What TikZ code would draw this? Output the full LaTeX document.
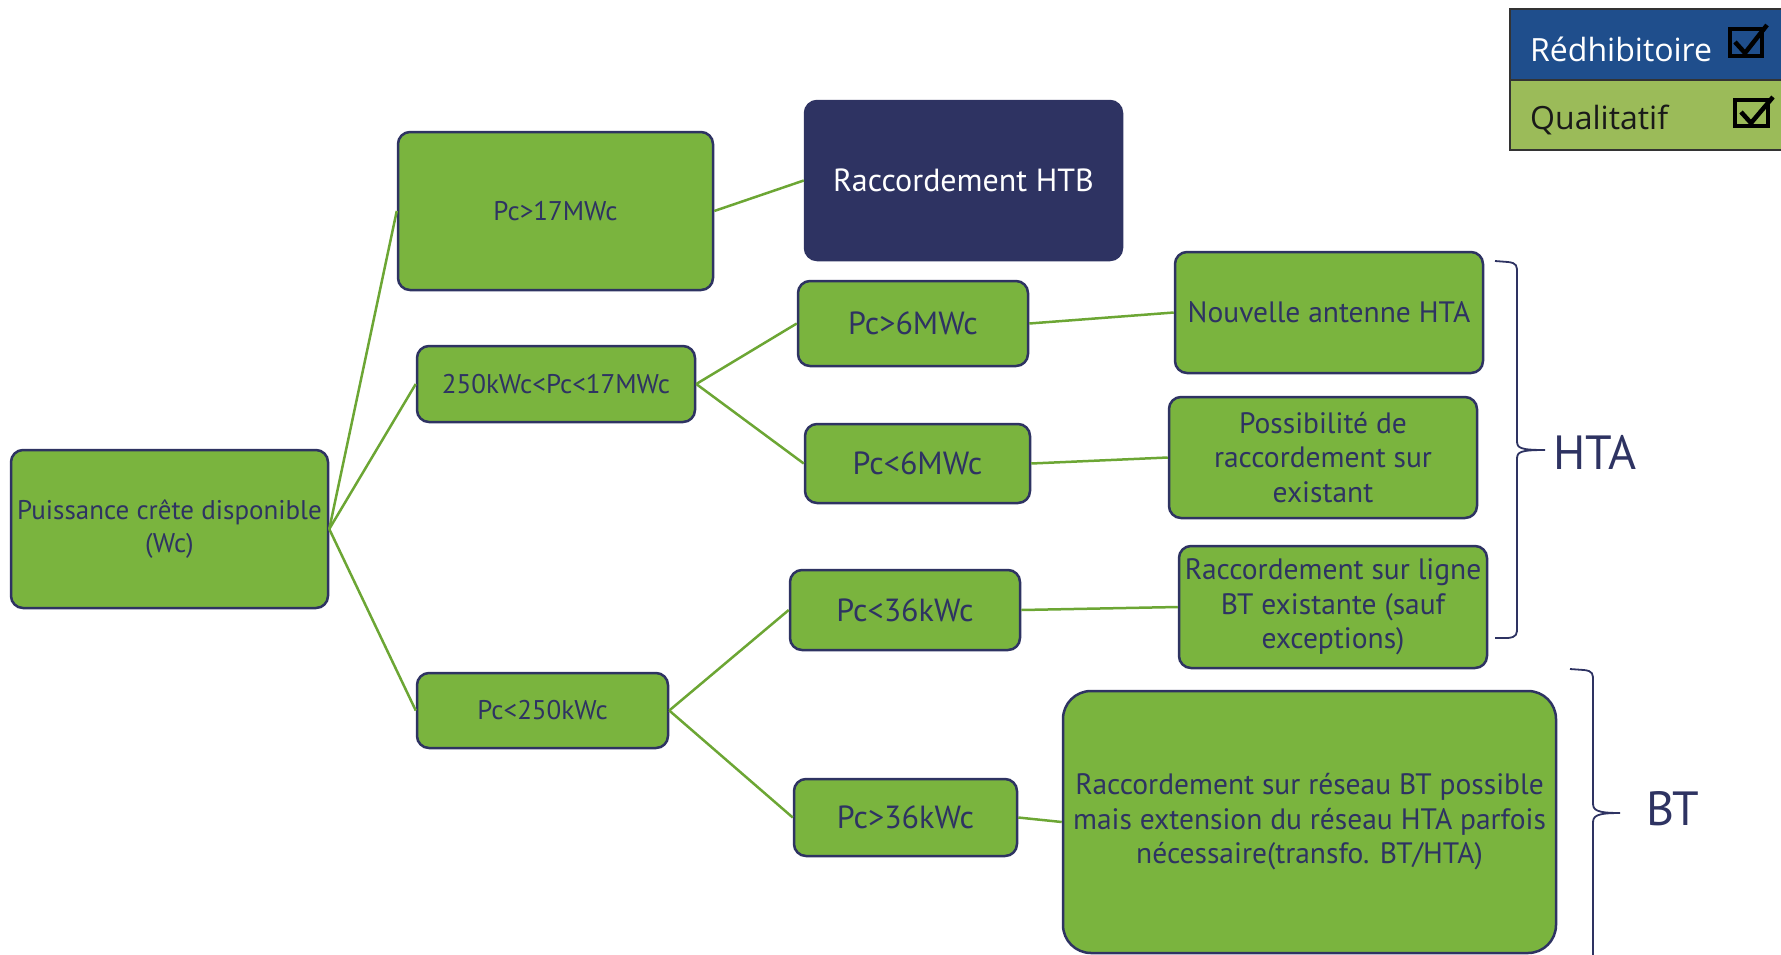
\documentclass[tikz,border=0pt]{standalone}
\usepackage{fontspec}
\setmainfont{PT Sans}
\newfontfamily\legendfont{Open Sans}
\definecolor{boxgreen}{RGB}{122,180,62}
\definecolor{navy}{RGB}{46,51,98}
\definecolor{linkgreen}{RGB}{108,166,52}
\definecolor{legblue}{RGB}{31,78,140}
\definecolor{leggreen}{RGB}{155,187,89}
\begin{document}
\begin{tikzpicture}[x=1pt,y=-1pt,
		box/.style={draw=navy, line width=2.5pt, fill=boxgreen, rounded corners=12pt, text=navy, align=center, inner sep=2pt},
		small/.style={font=\fontsize{27}{33}\selectfont},
		mid/.style={font=\fontsize{32}{36}\selectfont},
		big/.style={font=\fontsize{29.5}{34.5}\selectfont},
		link/.style={draw=linkgreen, line width=2.5pt},
		brace/.style={draw=navy, line width=1.8pt}]
		\useasboundingbox (0,0) rectangle (1781,954);
		
		% tree
		\node[box, small, minimum width=317pt, minimum height=158pt] (root) at (169.5,529) {Puissance crête disponible\\(Wc)};
		\node[box, small, minimum width=315pt, minimum height=158pt] (p17) at (555.5,211) {Pc>17MWc};
		\node[box, small, minimum width=278pt, minimum height=76pt] (pmid) at (556,384) {250kWc<Pc<17MWc};
		\node[box, small, minimum width=251pt, minimum height=75pt] (plow) at (542.5,710.5) {Pc<250kWc};
		\node[box, fill=navy, text=white, font=\fontsize{32}{36}\selectfont, minimum width=317pt, minimum height=159pt] (htb) at (963.5,180.5) {Raccordement HTB};
		\node[box, mid, minimum width=230pt, minimum height=85pt] (p6a) at (913,323.5) {Pc>6MWc};
		\node[box, mid, minimum width=225pt, minimum height=79pt] (p6b) at (917.5,463.5) {Pc<6MWc};
		\node[box, mid, minimum width=230pt, minimum height=80pt] (p36a) at (905,610) {Pc<36kWc};
		\node[box, mid, minimum width=223pt, minimum height=77pt] (p36b) at (905.5,817.5) {Pc>36kWc};
		\node[box, big, minimum width=308pt, minimum height=121pt] (ant) at (1329,312.5) {Nouvelle antenne HTA};
		\node[box, big, minimum width=308pt, minimum height=121pt] (exist) at (1323,457.5) {Possibilité de\\raccordement sur\\existant};
		\node[box, big, minimum width=308pt, minimum height=122pt] (ligne) at (1333,607) {Raccordement sur ligne\\BT existante (sauf\\exceptions)};
		\node[box, big, rounded corners=28pt, minimum width=493pt, minimum height=262pt] (reseau) at (1309.5,822) {Raccordement sur réseau BT possible\\mais extension du réseau HTA parfois\\nécessaire(transfo. BT/HTA)};
		
		\draw[link] (root.east) -- (p17.west);
		\draw[link] (root.east) -- (pmid.west);
		\draw[link] (root.east) -- (plow.west);
		\draw[link] (p17.east) -- (htb.west);
		\draw[link] (pmid.east) -- (p6a.west);
		\draw[link] (pmid.east) -- (p6b.west);
		\draw[link] (plow.east) -- (p36a.west);
		\draw[link] (plow.east) -- (p36b.west);
		\draw[link] (p6a.east) -- (ant.west);
		\draw[link] (p6b.east) -- (exist.west);
		\draw[link] (p36a.east) -- (ligne.west);
		\draw[link] (p36b.east) -- (reseau.west);
		
		% braces
		\draw[brace] (1495,261) -- (1508,262) .. controls (1517,263) and (1517,266) .. (1517,273) -- (1517,441)
			.. controls (1517,448) and (1520,450) .. (1545,450)
			.. controls (1520,450) and (1517,452) .. (1517,459) -- (1517,627)
			.. controls (1517,634) and (1517,637) .. (1508,638) -- (1495,638);
		\node[text=navy, font=\fontsize{48}{48}\selectfont] (hta) at (1595,452) {HTA};
		\draw[brace] (1570,669) -- (1584,670) .. controls (1593,671) and (1593,674) .. (1593,681) -- (1593,803)
			.. controls (1593,810) and (1596,813) .. (1620,813)
			.. controls (1596,813) and (1593,816) .. (1593,823) -- (1593,960);
		\node[text=navy, font=\fontsize{48}{48}\selectfont] (bt) at (1673,809) {BT};
		
		% legend
		\filldraw[fill=legblue, draw=black!80, line width=1.5pt] (1510,9) rectangle (1790,80);
		\filldraw[fill=leggreen, draw=black!80, line width=1.5pt] (1510,80) rectangle (1790,150);
		\node[anchor=base west, text=white, font=\legendfont\fontsize{32}{34}\selectfont, inner sep=0pt] (redh) at (1530,61) {Rédhibitoire};
		\node[anchor=base west, text=black!90, font=\legendfont\fontsize{32}{34}\selectfont, inner sep=0pt] (qual) at (1530,129) {Qualitatif};
		\draw[black, line width=3.5pt] (1730,29) rectangle (1762,56);
		\draw[black, line width=4.5pt, line join=miter] (1735,42) -- (1745,53) -- (1767,25);
		\draw[black, line width=3.5pt] (1735,100) rectangle (1768,126);
		\draw[black, line width=4.5pt, line join=miter] (1741,112) -- (1751,123) -- (1773,97);
\end{tikzpicture}
\end{document}
